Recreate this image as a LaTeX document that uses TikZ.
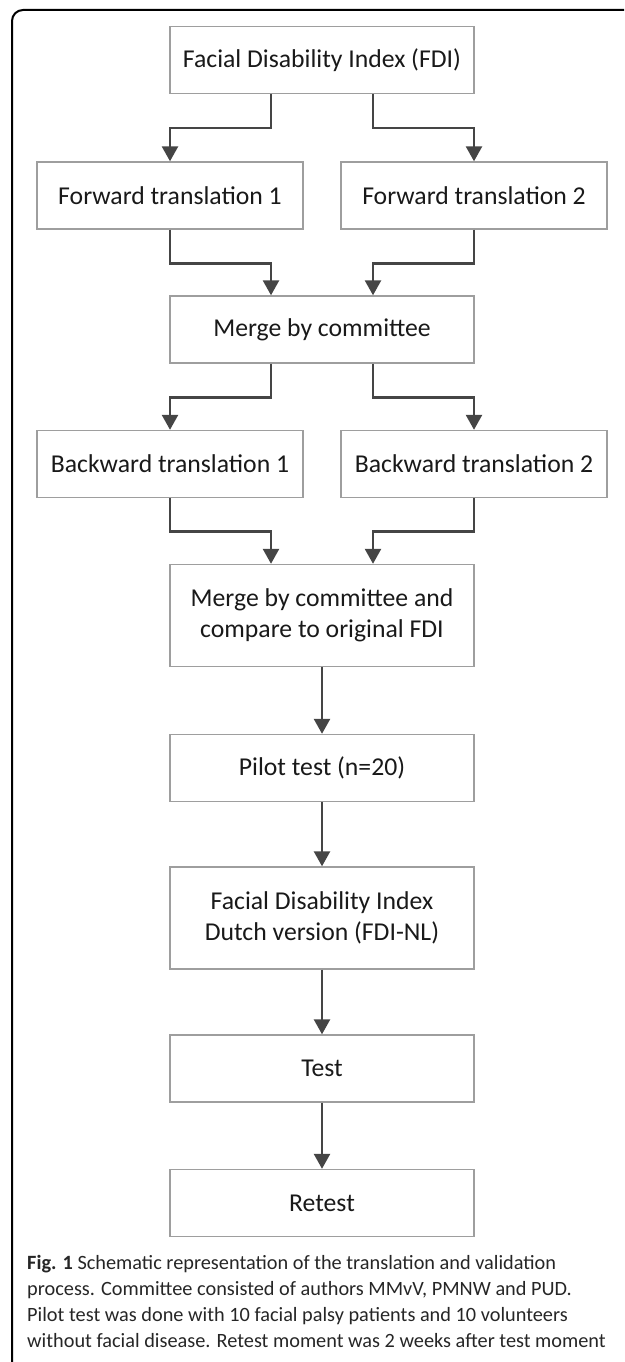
\documentclass[tikz,border=0pt]{standalone}
\usepackage{fontspec}
\setmainfont{Carlito}
\usepackage{tikz}
\usetikzlibrary{arrows.meta,positioning}
\definecolor{boxgrey}{gray}{0.62}
\definecolor{arrgrey}{gray}{0.27}

\begin{document}
\begin{tikzpicture}[x=1pt,y=-1pt,font=\fontsize{25.7}{31}\selectfont]

\tikzset{stepbox/.style={draw=boxgrey,line width=1.4pt,fill=white,inner sep=0pt,minimum width=304pt,minimum height=67pt,align=center,text=black!90},
sidebox/.style={stepbox,minimum width=266pt},
tallbox/.style={stepbox,minimum height=102pt},
arr/.style={draw=arrgrey,line width=2.6pt,-{Triangle[width=16pt,length=15pt]}}}

% Frame
\useasboundingbox (0,0) rectangle (624,1362);
\begin{scope}
\clip (0,0) rectangle (624,1362);
\draw[line width=2pt,rounded corners=11pt] (12,10) rectangle (720,1375);
\end{scope}

% Translation part
\node[stepbox] (fdi) at (322,60) {Facial Disability Index (FDI)};
\node[sidebox] (ft1) at (170,195.5) {Forward translation 1};
\node[sidebox] (ft2) at (474,195.5) {Forward translation 2};
\node[stepbox] (merge) at (322,329.5) {Merge by committee};
\node[sidebox] (bt1) at (170,464) {Backward translation 1};
\node[sidebox] (bt2) at (474,464) {Backward translation 2};
\node[tallbox] (compare) at (322,615.5) {Merge by committee and\\compare to original FDI};

% Validation part
\node[stepbox] (pilot) at (322,768) {Pilot test (n=20)};
\node[tallbox] (fdinl) at (322,918) {Facial Disability Index\\Dutch version (FDI-NL)};
\node[stepbox] (test) at (322,1068.5) {Test};
\node[stepbox] (retest) at (322,1203) {Retest};

% Split and merge arrows
\draw[arr] ([xshift=-51]fdi.south) -- ++(0,34) -| (ft1.north);
\draw[arr] ([xshift=51]fdi.south) -- ++(0,34) -| (ft2.north);
\draw[arr] (ft1.south) -- ++(0,34) -| ([xshift=-51]merge.north);
\draw[arr] (ft2.south) -- ++(0,34) -| ([xshift=51]merge.north);
\draw[arr] ([xshift=-51]merge.south) -- ++(0,34) -| (bt1.north);
\draw[arr] ([xshift=51]merge.south) -- ++(0,34) -| (bt2.north);
\draw[arr] (bt1.south) -- ++(0,33) -| ([xshift=-51]compare.north);
\draw[arr] (bt2.south) -- ++(0,33) -| ([xshift=51]compare.north);

% Straight arrows
\draw[arr] (compare) -- (pilot);
\draw[arr] (pilot) -- (fdinl);
\draw[arr] (fdinl) -- (test);
\draw[arr] (test) -- (retest);

% Caption
\node[anchor=north west,align=left,inner sep=0pt,text=black!85,font=\fontsize{20.3}{26}\selectfont] (caption) at (27,1255)
{\textbf{Fig. 1} Schematic representation of the translation and validation\\
process. Committee consisted of authors MMvV, PMNW and PUD.\\
Pilot test was done with 10 facial palsy patients and 10 volunteers\\
without facial disease. Retest moment was 2 weeks after test moment};

\end{tikzpicture}
\end{document}
